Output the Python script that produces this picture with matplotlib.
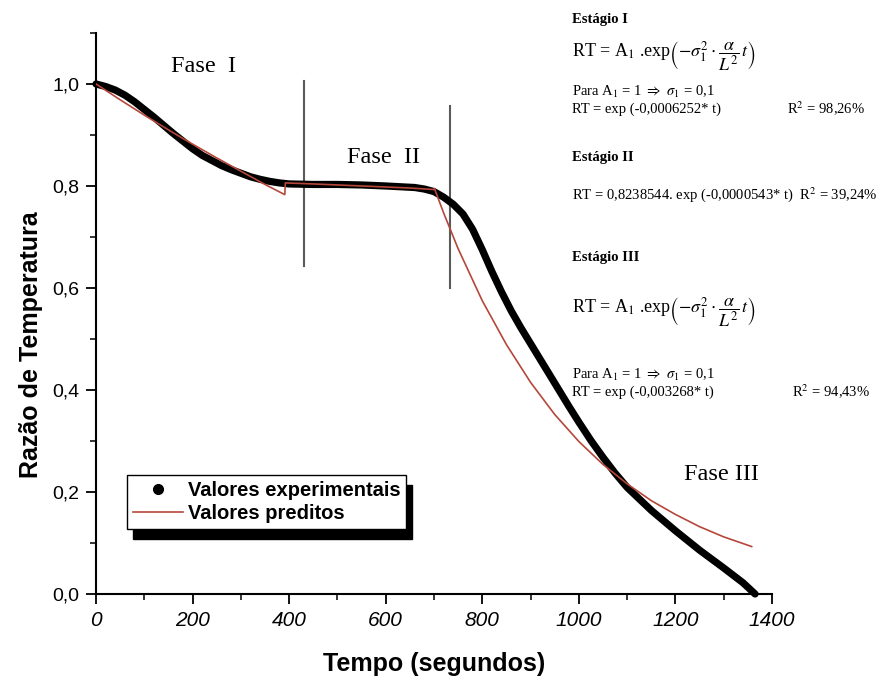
import matplotlib
matplotlib.use("Agg")
import matplotlib.pyplot as plt
from matplotlib.lines import Line2D
from matplotlib.ticker import MultipleLocator, FixedLocator

plt.rcParams["font.family"] = ["Liberation Sans", "DejaVu Sans"]
plt.rcParams["mathtext.fontset"] = "stix"

# valores experimentais
t_exp = [0, 20, 40, 60, 80, 100, 120, 140, 160, 180, 200, 220, 240, 260,
         280, 300, 320, 340, 360, 380, 400, 450, 500, 550, 600, 640, 660,
         680, 700, 720, 740, 760, 780, 800, 820, 840, 860, 880, 900, 920,
         940, 960, 980, 1000, 1025, 1050, 1075, 1100, 1150, 1200, 1250,
         1300, 1340, 1365]
rt_exp = [1.000, 0.995, 0.988, 0.978, 0.965, 0.950, 0.935, 0.919, 0.903,
          0.888, 0.873, 0.860, 0.850, 0.840, 0.832, 0.825, 0.818, 0.813,
          0.809, 0.806, 0.804, 0.803, 0.803, 0.802, 0.800, 0.798, 0.797,
          0.794, 0.789, 0.778, 0.764, 0.745, 0.715, 0.675, 0.632, 0.592,
          0.555, 0.522, 0.491, 0.460, 0.429, 0.398, 0.367, 0.337, 0.301,
          0.268, 0.237, 0.209, 0.164, 0.124, 0.086, 0.051, 0.022, 0.000]

# valores preditos (estágios I, II e III)
t_pred = [0, 50, 100, 150, 200, 250, 300, 350, 391,
          392, 450, 500, 550, 600, 650, 700,
          701, 720, 750, 800, 850, 900, 950, 1000, 1050, 1100, 1150, 1200,
          1250, 1300, 1358]
rt_pred = [1.000, 0.969, 0.939, 0.910, 0.882, 0.855, 0.829, 0.803, 0.783,
           0.806, 0.804, 0.802, 0.800, 0.798, 0.796, 0.793,
           0.795, 0.747, 0.677, 0.575, 0.489, 0.415, 0.352, 0.299, 0.254,
           0.216, 0.183, 0.156, 0.132, 0.112, 0.093]

# divisões entre fases
fase_t = [431, 733]
fase_y0 = [0.644, 0.599]
fase_y1 = [1.006, 0.957]

fig = plt.figure(figsize=(8.94, 6.8), dpi=100)
ax = fig.add_axes([0.1074, 0.1265, 0.7561, 0.825])

ax.plot(t_exp, rt_exp, "-", color="black", lw=5.2,
        solid_capstyle="round", solid_joinstyle="round", clip_on=False, zorder=3)
ax.plot(t_pred, rt_pred, color="#b5473a", lw=1.2, zorder=4)

for t, y0, y1 in zip(fase_t, fase_y0, fase_y1):
    ax.plot([t, t], [y0, y1], color="#5a5a5a", lw=1.5, zorder=2)

serif = ["Liberation Serif", "DejaVu Serif"]
ax.text(222, 1.035, "Fase  I", family=serif, fontsize=17.5, ha="center", va="center")
ax.text(596, 0.855, "Fase  II", family=serif, fontsize=17.5, ha="center", va="center")
ax.text(1296, 0.235, "Fase III", family=serif, fontsize=17.5, ha="center", va="center")

ax.set_xlim(0, 1400)
ax.set_ylim(0, 1.1)
ax.xaxis.set_major_locator(FixedLocator([0, 200, 400, 600, 800, 1000, 1200, 1400]))
ax.xaxis.set_minor_locator(MultipleLocator(100))
ax.yaxis.set_major_locator(FixedLocator([0, 0.2, 0.4, 0.6, 0.8, 1.0]))
ax.yaxis.set_minor_locator(MultipleLocator(0.1))
ax.set_yticklabels(["0,0", "0,2", "0,4", "0,6", "0,8", "1,0"], fontsize=14)
ax.set_xticklabels(["0", "200", "400", "600", "800", "1000", "1200", "1400"],
                   fontstyle="italic", fontsize=15)
ax.tick_params(which="major", direction="out", length=7, width=1.3, pad=5)
ax.tick_params(which="minor", direction="out", length=4.5, width=1.1)
ax.spines["right"].set_visible(False)
ax.spines["top"].set_visible(False)
ax.spines["bottom"].set_linewidth(1.5)
ax.spines["left"].set_linewidth(1.5)

ax.set_xlabel("Tempo (segundos)", fontsize=18, fontweight="bold", labelpad=16)
ax.set_ylabel("Razão de Temperatura", fontsize=18, fontweight="bold")
ax.yaxis.set_label_coords(-0.078, 0.445)

handles = [
    Line2D([], [], marker="o", ls="none", color="black", ms=7),
    Line2D([], [], color="#b5473a", lw=1.2),
]
leg = ax.legend(handles, ["Valores experimentais", "Valores preditos"],
                loc="lower left", bbox_to_anchor=(0.046, 0.115), borderaxespad=0,
                prop={"weight": "bold", "size": 14.5}, fancybox=False,
                edgecolor="black", framealpha=1, handlelength=2.5,
                borderpad=0.3, labelspacing=0.2, handletextpad=0.2,
                shadow={"ox": 4, "oy": -7, "color": "black", "alpha": 1})
leg.get_frame().set_linewidth(1.0)


def ftext(px, py, s, **kw):
    fig.text(px / 894, 1 - py / 680, s, va="center", family=serif, **kw)


formula = (r"RT = A$_1$ .exp$\left(-\sigma_1^2 \cdot \dfrac{\alpha}{L^2}\, t\right)$")
ftext(572, 20, "Estágio I", fontsize=10.5, fontweight="bold")
ftext(572, 57, formula, fontsize=13)
ftext(572, 92, r"Para A$_1$ = 1 $\Rightarrow$ $\sigma$$_1$ = 0,1", fontsize=10.5)
ftext(572, 109, "RT = exp (-0,0006252* t)", fontsize=10.5)
ftext(787, 109, "R$^2$ = 98,26%", fontsize=10.5)
ftext(572, 157, "Estágio II", fontsize=10.5, fontweight="bold")
ftext(572, 195, "RT = 0,8238544. exp (-0,0000543* t)  R$^2$ = 39,24%", fontsize=10.5)
ftext(572, 257, "Estágio III", fontsize=10.5, fontweight="bold")
ftext(572, 313, formula, fontsize=13)
ftext(572, 375, r"Para A$_1$ = 1 $\Rightarrow$ $\sigma$$_1$ = 0,1", fontsize=10.5)
ftext(572, 392, "RT = exp (-0,003268* t)", fontsize=10.5)
ftext(792, 392, "R$^2$ = 94,43%", fontsize=10.5)

fig.savefig("out.png", dpi=100)
